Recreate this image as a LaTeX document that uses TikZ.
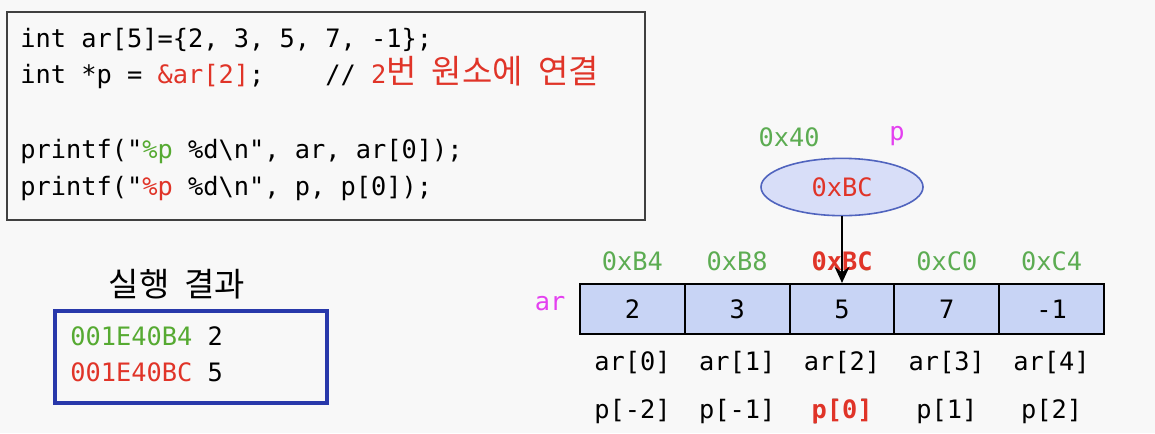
\documentclass[tikz,border=0pt]{standalone}
\usepackage{fontspec}
\setmonofont{DejaVu Sans Mono}
\newfontfamily\kr{Noto Sans CJK KR}[Scale=1.3]
\usetikzlibrary{arrows.meta,positioning,shapes.geometric}
\newcommand{\hg}[1]{{\kr #1}}
\definecolor{bgcol}{RGB}{248,248,248}
\definecolor{codered}{RGB}{224,52,40}
\definecolor{codegreen}{RGB}{86,170,50}
\definecolor{addrgreen}{RGB}{92,172,82}
\definecolor{varpink}{RGB}{228,64,240}
\definecolor{cellblue}{RGB}{200,212,245}
\definecolor{ovalblue}{RGB}{216,222,248}
\definecolor{ovalline}{RGB}{80,100,190}
\definecolor{resblue}{RGB}{40,56,170}

\begin{document}
\begin{tikzpicture}[x=0.75pt, y=-0.75pt,
    every node/.style={font=\ttfamily\fontsize{19}{23}\selectfont, inner sep=0pt},
    codeline/.style={anchor=base west},
    cell/.style={draw, fill=cellblue, line width=1.6pt, minimum width=78.6pt, minimum height=37.5pt},
    addr/.style={text=addrgreen, anchor=base},
    idx/.style={anchor=base}]
    % background
    \fill[bgcol] (0,0) rectangle (1155,433);
    \useasboundingbox (0,0) rectangle (1155,433);

    % Code box
    \draw[black!75, line width=1.3pt] (7,12) rectangle (645,220);
    \node[codeline] (l1) at (20,47) {int ar[5]=\{2, 3, 5, 7, -1\};};
    \node[codeline] (l2) at (20,83) {int *p = \textcolor{codered}{\&ar[2]};\ \ \ \ // \textcolor{codered}{2\hg{번} \hg{원소에} \hg{연결}}};
    \node[codeline] (l4) at (20,158) {printf("\textcolor{codegreen}{\%p} \%d\textbackslash n", ar, ar[0]);};
    \node[codeline] (l5) at (20,195) {printf("\textcolor{codered}{\%p} \%d\textbackslash n", p, p[0]);};

    % Result
    \node (title) at (177,284) {\hg{실행} \hg{결과}};
    \draw[resblue, line width=2.6pt] (55,311) rectangle (327,403);
    \node[codeline] (r1) at (70,345) {\textcolor{codegreen}{001E40B4} 2};
    \node[codeline] (r2) at (70,381) {\textcolor{codered}{001E40BC} 5};

    % Pointer p
    \node[ellipse, draw=ovalline, fill=ovalblue, line width=1.2pt, minimum width=121.5pt, minimum height=43pt,
          text=codered] (ptr) at (842,187) {0xBC};
    \node[anchor=base, text=addrgreen] (paddr) at (789,146) {0x40};
    \node[anchor=base, text=varpink] (pname) at (897,140) {p};

    % Array ar
    \node[anchor=base, text=varpink] (arname) at (550,310) {ar};
    \foreach \v/\a/\n [count=\i from 0] in {2/0xB4/-2, 3/0xB8/-1, 5/0xBC/0, 7/0xC0/1, -1/0xC4/2} {
        \node[cell] (c\i) at (632.4+104.8*\i,309) {\v};
        \node[addr] (a\i) at (632.4+104.8*\i,270) {\a};
        \node[idx] (ai\i) at (632.4+104.8*\i,370) {ar[\i]};
        \node[idx] (pi\i) at (632.4+104.8*\i,418) {p[\n]};
    }
    % highlighted element
    \node[addr, text=codered, font=\ttfamily\fontsize{19}{23}\selectfont\bfseries, fill=bgcol] at (a2.base) {0xBC};
    \node[idx, text=codered, font=\ttfamily\fontsize{19}{23}\selectfont\bfseries, fill=bgcol] at (pi2.base) {p[0]};

    \draw[-{Stealth[length=12pt,width=11pt,inset=4pt]}, line width=2pt] (ptr) -- (c2);
\end{tikzpicture}
\end{document}
